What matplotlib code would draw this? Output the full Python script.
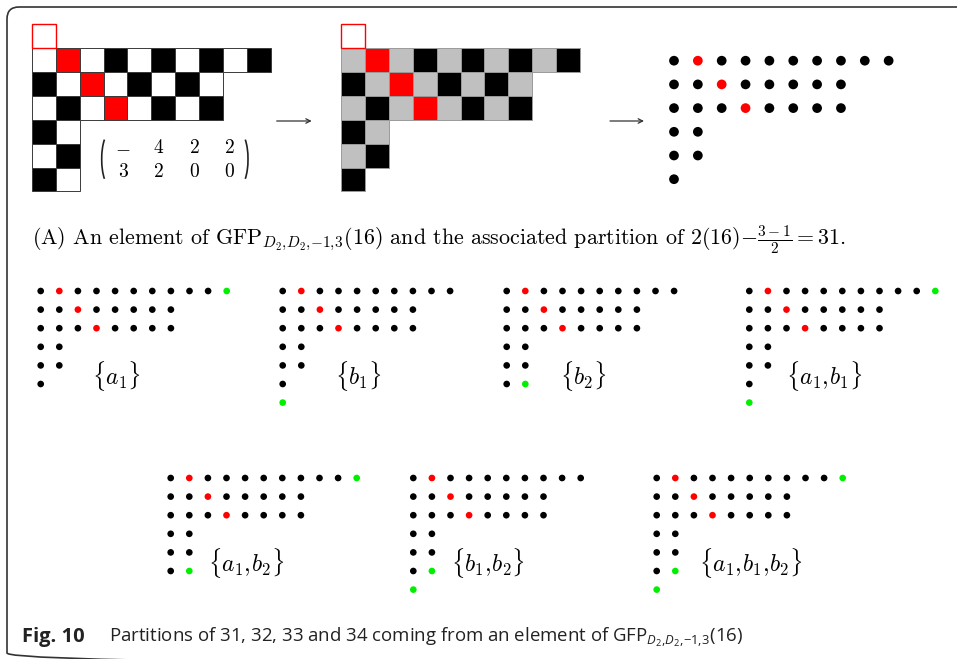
import matplotlib

matplotlib.use("Agg")

import matplotlib.pyplot as plt
from matplotlib.patches import Arc, FancyBboxPatch, Rectangle

plt.rcParams["mathtext.fontset"] = "custom"
plt.rcParams["mathtext.rm"] = "Open Sans"
plt.rcParams["mathtext.it"] = "Open Sans:italic"
plt.rcParams["mathtext.bf"] = "Open Sans:bold"

# partition of 31, top row first
ROWS_31 = [10, 8, 8, 2, 2, 1]
# the checkerboard grid keeps one extra cell in its bottom row
ROWS_GRID = [10, 8, 8, 2, 2, 2]
# red diagonal cells (row, col)
RED_CELLS = [(0, 1), (1, 2), (2, 3)]
MATRIX = [["-", "4", "2", "2"], ["3", "2", "0", "0"]]

# cell that each generator adds (row, col), drawn green
GENERATOR_CELLS = {"a_1": (0, 10), "b_1": (6, 0), "b_2": (5, 1)}
SUBSETS = [
    ["a_1"],
    ["b_1"],
    ["b_2"],
    ["a_1", "b_1"],
    ["a_1", "b_2"],
    ["b_1", "b_2"],
    ["a_1", "b_1", "b_2"],
]

RED = "#ff0000"
GREEN = "#00f000"
GRAY = "#c0c0c0"

# layout in pixels
CELL = 23.85
GRID1_ORIGIN = (32.0, 48.3)
GRID2_ORIGIN = (341.3, 48.3)
DOTS_ORIGIN = (674.0, 60.7)
SMALL_SP = 18.6
PANEL_ORIGINS = [
    (40.7, 291.0), (282.7, 291.0), (506.7, 291.0), (749.3, 291.0),
    (170.7, 478.0), (413.3, 478.0), (656.7, 478.0),
]
LABEL_DX = [2.75, 2.8, 2.85, 2.0, 2.0, 2.05, 2.25]

SUB = r"_{D_2,\!D_2,\!{-}1,\!3}"


def draw_grid(ax, origin, rows, white, edge):
    x0, y0 = origin
    # red outlined box above the first column
    ax.add_patch(Rectangle((x0, y0 - CELL), CELL, CELL, facecolor="white",
                           edgecolor=RED, lw=1.0, zorder=3))
    for r, length in enumerate(rows):
        for c in range(length):
            if (r, c) in RED_CELLS:
                color = RED
            elif (r + c) % 2 == 0:
                color = white
            else:
                color = "black"
            ax.add_patch(Rectangle((x0 + c * CELL, y0 + r * CELL), CELL, CELL,
                                   facecolor=color, edgecolor=edge, lw=0.7))


def dot_colors(rows, extra):
    xs, ys, cs = [], [], []
    for r, length in enumerate(rows):
        for c in range(length):
            xs.append(c)
            ys.append(r)
            cs.append(RED if (r, c) in RED_CELLS else "black")
    for r, c in extra:
        xs.append(c)
        ys.append(r)
        cs.append(GREEN)
    return xs, ys, cs


def main():
    fig = plt.figure(figsize=(9.57, 6.59), dpi=100)
    ax = fig.add_axes([0, 0, 1, 1])
    ax.set_xlim(0, 957)
    ax.set_ylim(659, 0)
    ax.axis("off")

    ax.add_patch(FancyBboxPatch((7, 7), 980, 658, boxstyle="round,pad=0,rounding_size=12",
                                facecolor="none", edgecolor="#333333", lw=1.2))

    draw_grid(ax, GRID1_ORIGIN, ROWS_GRID, "white", "#3a3a3a")
    draw_grid(ax, GRID2_ORIGIN, ROWS_31, GRAY, "#9a9a9a")

    # matrix inside the first grid
    mx0, my0 = 123.0, 153.3
    for i, row in enumerate(MATRIX):
        for j, entry in enumerate(row):
            ax.text(mx0 + j * 35.6, my0 + i * 23.4, f"${entry}$", ha="center",
                    va="baseline", fontsize=14, math_fontfamily="cm")
    ax.add_patch(Arc((109.7, 159.2), 16, 52, theta1=105, theta2=255, lw=1.2, color="#222222"))
    ax.add_patch(Arc((240.0, 159.2), 16, 52, theta1=-75, theta2=75, lw=1.2, color="#222222"))

    for xa, xb in [(276.7, 311.7), (610.0, 644.0)]:
        ax.annotate("", xy=(xb, 121), xytext=(xa, 121),
                    arrowprops=dict(arrowstyle="->", lw=0.9, color="#333333",
                                    shrinkA=0, shrinkB=0, mutation_scale=8))

    xs, ys, cs = dot_colors(ROWS_31, [])
    ax.scatter([DOTS_ORIGIN[0] + x * CELL for x in xs],
               [DOTS_ORIGIN[1] + y * 23.7 for y in ys], s=49, c=cs, lw=0)

    ax.text(31.7, 244.5,
            "(A) An element of GFP$" + SUB + "$(16) and the associated partition of "
            r"2(16)$-\frac{3-1}{2}=31$.",
            fontfamily="cmr10", math_fontfamily="cm", fontsize=15.8, va="baseline")

    for (px, py), subset, dx in zip(PANEL_ORIGINS, SUBSETS, LABEL_DX):
        extra = [GENERATOR_CELLS[g] for g in subset]
        xs, ys, cs = dot_colors(ROWS_31, extra)
        ax.scatter([px + x * SMALL_SP for x in xs], [py + y * SMALL_SP for y in ys],
                   s=23, c=cs, lw=0)
        label = r"$\{" + r",\!".join(subset) + r"\}$"
        ax.text(px + dx * SMALL_SP, py + 4.55 * SMALL_SP, label, ha="left", va="center",
                fontsize=17, math_fontfamily="cm")

    ax.text(22, 642, "Fig. 10", fontfamily="Open Sans", fontweight="bold",
            fontsize=14.5, va="baseline", color="#222222")
    ax.text(109, 642,
            "Partitions of 31, 32, 33 and 34 coming from an element of GFP$" + SUB + "$(16)",
            fontfamily="Open Sans", math_fontfamily="custom", fontsize=13.4,
            va="baseline", color="#222222")

    fig.savefig("out.png", dpi=100)
    plt.close(fig)


if __name__ == "__main__":
    main()
